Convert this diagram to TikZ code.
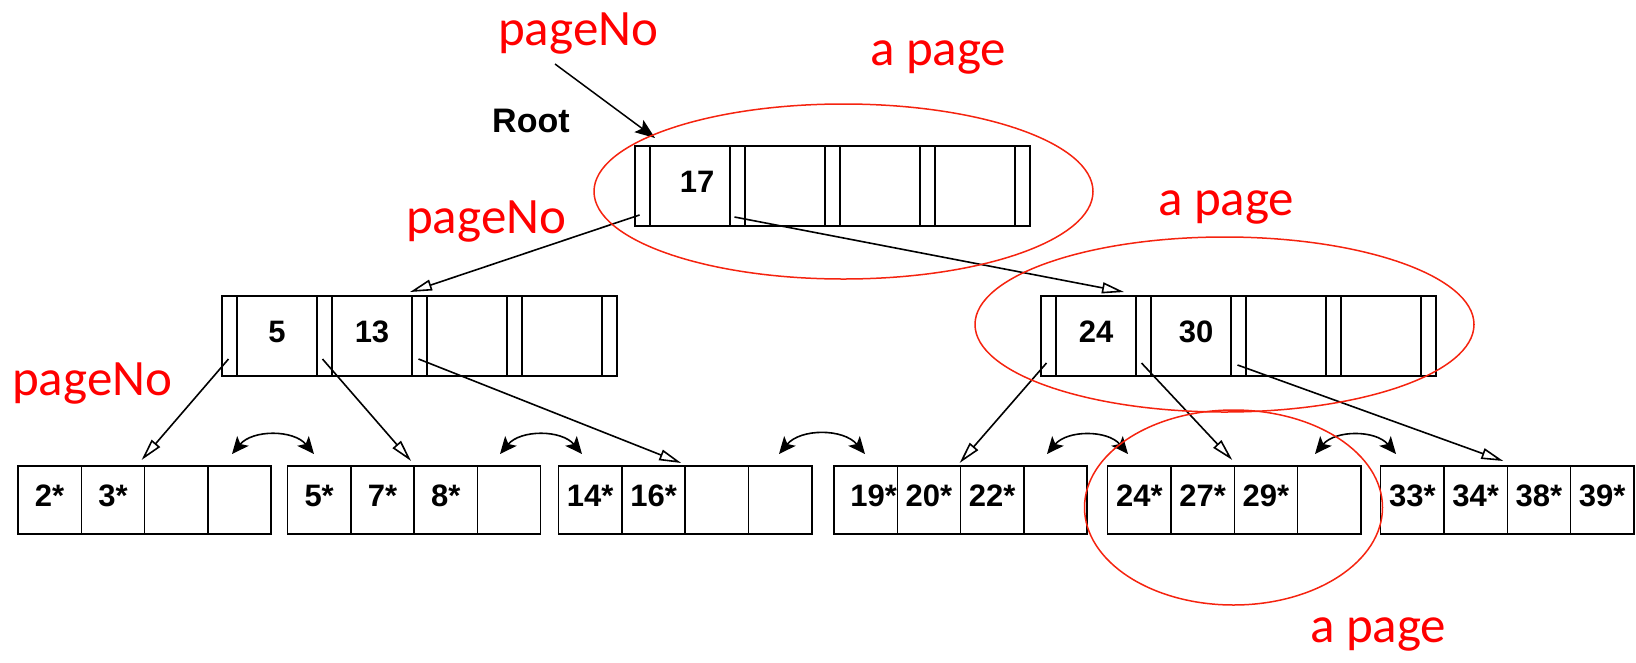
\documentclass[tikz,border=0pt]{standalone}
\usepackage{fontspec}
\setmainfont{Liberation Sans}
\newfontfamily\notefont{Carlito}
\usetikzlibrary{arrows.meta,calc}

\definecolor{notered}{RGB}{255,0,0}
\definecolor{ringred}{RGB}{245,35,15}

\tikzset{
  box/.style={draw, line width=1.5pt, inner sep=0pt, outer sep=0pt, anchor=north west},
  ptrslot/.style={box, minimum width=15pt, minimum height=80pt},
  keycell/.style={box, minimum width=80pt, minimum height=80pt,
    font=\bfseries\fontsize{31}{31}\selectfont, text height=22pt, text depth=10pt},
  leafcell/.style={box, minimum width=63.3pt, minimum height=68pt,
    font=\bfseries\fontsize{31}{31}\selectfont, text height=22pt, text depth=10pt},
  note/.style={text=notered, font=\notefont\fontsize{51}{51}\selectfont,
    inner sep=0pt, anchor=base west},
  rootlabel/.style={font=\bfseries\fontsize{34}{34}\selectfont, inner sep=0pt, anchor=base west},
  ring/.style={draw=ringred, line width=1.5pt},
  rootarrow/.style={line width=1.5pt, -{Stealth[length=20pt,width=15pt,inset=4pt]}},
  child/.style={line width=1.6pt, -{Triangle[open,length=22pt,width=11pt]}},
  sibling/.style={line width=1.6pt,
    {Stealth[length=17pt,width=15pt,inset=4pt]}-{Stealth[length=17pt,width=15pt,inset=4pt]},
    bend left=50},
}

% index page: five pointer slots around four key cells
\newcommand\indexnode[7]{%
  \node[ptrslot] (#1-p0) at (#2,#3) {};
  \node[keycell] (#1-k1) at (#1-p0.north east) {#4};
  \node[ptrslot] (#1-p1) at (#1-k1.north east) {};
  \node[keycell] (#1-k2) at (#1-p1.north east) {#5};
  \node[ptrslot] (#1-p2) at (#1-k2.north east) {};
  \node[keycell] (#1-k3) at (#1-p2.north east) {#6};
  \node[ptrslot] (#1-p3) at (#1-k3.north east) {};
  \node[keycell] (#1-k4) at (#1-p3.north east) {#7};
  \node[ptrslot] (#1-p4) at (#1-k4.north east) {};
}

% leaf page: four data entries
\newcommand\leafnode[7]{%
  \node[leafcell] (#1-c1) at (#2,#3) {#4};
  \node[leafcell] (#1-c2) at (#1-c1.north east) {#5};
  \node[leafcell] (#1-c3) at (#1-c2.north east) {#6};
  \node[leafcell] (#1-c4) at (#1-c3.north east) {#7};
}

\begin{document}
\begin{tikzpicture}[x=1pt, y=-1pt]
\useasboundingbox (0,0) rectangle (1636,662);

% tree pages
\indexnode{root}{635}{146}{\hspace*{14pt}17}{}{}{}
\indexnode{l2a}{222}{296}{5}{13}{}{}
\indexnode{l2b}{1041}{296}{24}{\hspace*{10pt}30}{}{}

\leafnode{leaf1}{18}{466}{2*}{3*}{}{}
\leafnode{leaf2}{287.5}{466}{5*}{7*}{8*}{}
\leafnode{leaf3}{558.6}{466}{14*}{16*}{}{}
\leafnode{leaf4}{834}{466}{\hspace*{16pt}19*}{20*}{22*}{}
\leafnode{leaf5}{1107.7}{466}{24*}{27*}{29*}{}
\leafnode{leaf6}{1380.7}{466}{33*}{34*}{38*}{39*}

% labels
\node[rootlabel] (rootname) at (492,132) {Root};
\node[note] (pgtop) at (498,45) {pageNo};
\node[note] (pgmid) at (406,233) {pageNo};
\node[note] (pgleft) at (12,395) {pageNo};
\node[note] (aptop) at (870,65) {a page};
\node[note] (apright) at (1158,215) {a page};
\node[note] (apbottom) at (1310,642) {a page};

% pointer to the root page
\coordinate (rootref) at (555,64);
\draw[rootarrow] (rootref) -- ($(root-p0.north east)+(5,-8)$);

% child pointers
\draw[child] ($(root-p0.south)+(-3,-11)$) -- ($(l2a-k2.north east)+(-2,-4)$);
\draw[child] ($(root-p1.south)+(-3,-9)$) -- ($(l2b-k1.north east)+(-12,-4)$);

\draw[child] ($(l2a-p0.south)+(-1,-17)$) -- ($(leaf1-c2.north east)+(-3,-6)$);
\draw[child] ($(l2a-p1.south)+(-2,-17)$) -- ($(leaf2-c2.north east)+(-3,-5)$);
\draw[child] ($(l2a-p2.south)+(-1,-17)$) -- ($(leaf3-c2.north east)+(-4,-3)$);

\draw[child] ($(l2b-p0.south)+(-2,-13)$) -- ($(leaf4-c2.north east)+(-1,-3)$);
\draw[child] ($(l2b-p1.south)+(-2,-13)$) -- ($(leaf5-c2.north east)+(-2,-6)$);
\draw[child] ($(l2b-p2.south)+(-1,-11)$) -- ($(leaf6-c2.north east)+(-4,-5)$);

% sibling links between leaf pages
\coordinate (sib1l) at (232,454);  \coordinate (sib1r) at (314,454);
\coordinate (sib2l) at (500,454);  \coordinate (sib2r) at (582,454);
\coordinate (sib3l) at (779,454);  \coordinate (sib3r) at (865,454);
\coordinate (sib4l) at (1047,454); \coordinate (sib4r) at (1128,454);
\coordinate (sib5l) at (1315,454); \coordinate (sib5r) at (1396,454);
\draw[sibling] (sib1l) to (sib1r);
\draw[sibling] (sib2l) to (sib2r);
\draw[sibling] (sib3l) to (sib3r);
\draw[sibling] (sib4l) to (sib4r);
\draw[sibling] (sib5l) to (sib5r);

% page outlines
\draw[ring] (843.5,191.5) ellipse [x radius=249.5pt, y radius=87.5pt];
\draw[ring] (1224.5,324.5) ellipse [x radius=249.5pt, y radius=87.5pt];
\draw[ring] (1233.5,507.5) ellipse [x radius=149pt, y radius=97.5pt];
\end{tikzpicture}
\end{document}
